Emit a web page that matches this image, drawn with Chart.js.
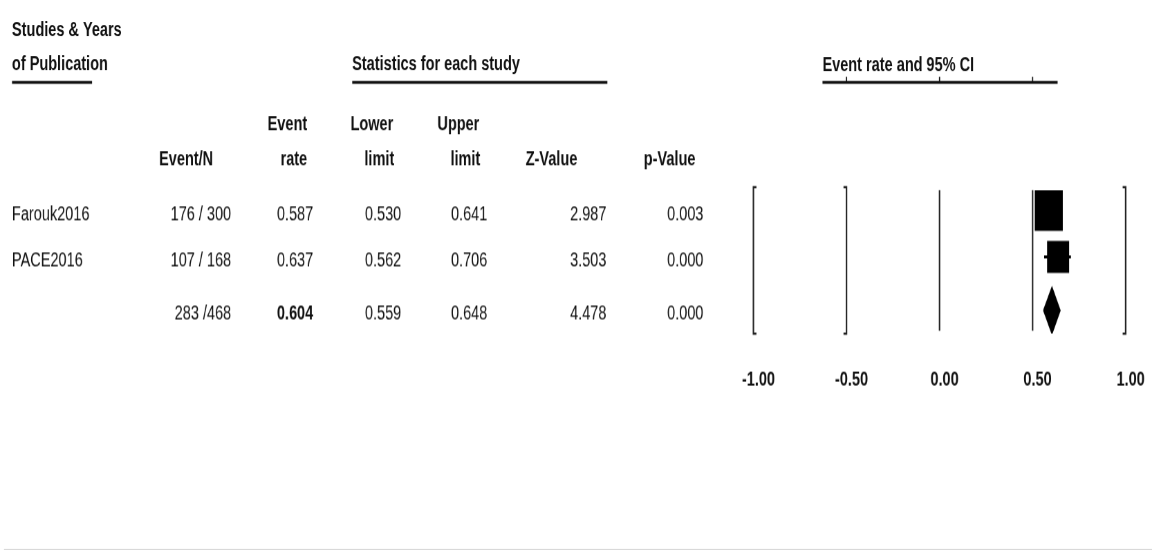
<!DOCTYPE html>
<html>
<head>
<meta charset="utf-8">
<title>Event rate forest plot</title>
<script src="https://cdn.jsdelivr.net/npm/chart.js@4.4.1/dist/chart.umd.min.js"></script>
<style>
  html, body { margin: 0; background: #fff; overflow: hidden; }
  #page { width: 1152px; height: 550px; position: relative; }
  /* the plot is drawn on a short canvas and stretched to full height */
  #wrap { position: absolute; left: 0; top: 0; width: 1152px; height: 380px; transform: scale(1, 1.447); transform-origin: 0 0; }
</style>
</head>
<body>
<div id="page"><div id="wrap"><canvas id="forest"></canvas></div></div>
<script>
const studyNames = ['Farouk2016', 'PACE2016'];
const eventCounts = [176, 107];
const sampleSizes = [300, 168];
const eventRates = [0.587, 0.637];
const lowerLimits = [0.530, 0.562];
const upperLimits = [0.641, 0.706];
const zValues = [2.987, 3.503];
const pValues = [0.003, 0.000];

const pooledEvents = 283;
const pooledSize = 468;
const pooledRate = 0.604;
const pooledLower = 0.559;
const pooledUpper = 0.648;
const pooledZ = 4.478;
const pooledP = 0.000;

const axisTicks = [-1, -0.5, 0, 0.5, 1];

const STRETCH = 1.447;
const ink = '#111';
const pooledRow = 2.15;
const diamondHalf = 0.5;

function put(ctx, str, x, y, align, bold) {
    ctx.font = (bold ? 'bold ' : '') + '14.5px "Liberation Sans", Arial, sans-serif';
    ctx.textAlign = align;
    ctx.textBaseline = 'alphabetic';
    ctx.fillStyle = ink;
    ctx.fillText(str, x, y);
}

// brackets and reference lines behind the markers
const frameLines = {
    id: 'frameLines',
    beforeDatasetsDraw(chart) {
        const { ctx, chartArea } = chart;
        const xs = chart.scales.x;
        const top = chartArea.top, bottom = chartArea.bottom;
        ctx.save();
        ctx.strokeStyle = '#222';
        ctx.lineWidth = 1.5;

        const bracket = (value, dir) => {
            const px = xs.getPixelForValue(value);
            ctx.beginPath();
            ctx.moveTo(px + dir * 3, top);
            ctx.lineTo(px, top);
            ctx.lineTo(px, bottom);
            ctx.lineTo(px + dir * 3, bottom);
            ctx.stroke();
        };
        bracket(-1, 1);
        bracket(-0.5, -1);
        bracket(1, -1);

        [0, 0.5].forEach(v => {
            const px = xs.getPixelForValue(v);
            ctx.beginPath();
            ctx.moveTo(px, top + 2);
            ctx.lineTo(px, bottom - 2);
            ctx.stroke();
        });
        ctx.restore();
    }
};

// table columns, headers and underlines
const forestTable = {
    id: 'forestTable',
    afterDraw(chart) {
        const { ctx } = chart;
        const xs = chart.scales.x;
        const ys = chart.scales.y;
        ctx.save();

        put(ctx, 'Studies & Years', 12, 25.2, 'left', true);
        put(ctx, 'of Publication', 12, 48.6, 'left', true);
        put(ctx, 'Statistics for each study', 352, 48.6, 'left', true);
        put(ctx, 'Event rate and 95% CI', 822, 48.8, 'left', true);

        ctx.fillStyle = ink;
        ctx.fillRect(12, 55.8, 80, 2);
        ctx.fillRect(352, 55.8, 255, 2);
        ctx.fillRect(822, 55.8, 235, 2);
        [-0.5, 0, 0.5].forEach(v => {
            ctx.fillRect(xs.getPixelForValue(v) - 0.6, 53, 1.2, 3);
        });

        put(ctx, 'Event', 307, 89.8, 'right', true);
        put(ctx, 'Lower', 393, 89.8, 'right', true);
        put(ctx, 'Upper', 479, 89.8, 'right', true);
        put(ctx, 'Event/N', 213, 114, 'right', true);
        put(ctx, 'rate', 307, 114, 'right', true);
        put(ctx, 'limit', 394, 114, 'right', true);
        put(ctx, 'limit', 480, 114, 'right', true);
        put(ctx, 'Z-Value', 577, 114, 'right', true);
        put(ctx, 'p-Value', 695, 114, 'right', true);

        const cols = [231, 313, 401, 487, 606, 703];
        studyNames.forEach((name, i) => {
            const y = ys.getPixelForValue(i) + 6.5;
            put(ctx, name, 12, y, 'left', false);
            put(ctx, eventCounts[i] + ' / ' + sampleSizes[i], cols[0], y, 'right', false);
            put(ctx, eventRates[i].toFixed(3), cols[1], y, 'right', false);
            put(ctx, lowerLimits[i].toFixed(3), cols[2], y, 'right', false);
            put(ctx, upperLimits[i].toFixed(3), cols[3], y, 'right', false);
            put(ctx, zValues[i].toFixed(3), cols[4], y, 'right', false);
            put(ctx, pValues[i].toFixed(3), cols[5], y, 'right', false);
        });

        const py = ys.getPixelForValue(pooledRow) + 6.5;
        put(ctx, pooledEvents + ' /' + pooledSize, cols[0], py, 'right', false);
        put(ctx, pooledRate.toFixed(3), cols[1], py, 'right', true);
        put(ctx, pooledLower.toFixed(3), cols[2], py, 'right', false);
        put(ctx, pooledUpper.toFixed(3), cols[3], py, 'right', false);
        put(ctx, pooledZ.toFixed(3), cols[4], py, 'right', false);
        put(ctx, pooledP.toFixed(3), cols[5], py, 'right', false);

        ctx.fillStyle = '#d4d4d4';
        ctx.fillRect(4, 378.8, 1148, 0.8);
        ctx.restore();
    }
};

const whiskers = studyNames.map((name, i) => ({
    label: name + ' CI',
    data: [{ x: lowerLimits[i], y: i }, { x: upperLimits[i], y: i }],
    showLine: true,
    borderColor: '#000',
    borderWidth: 2,
    pointRadius: 0
}));

const chart = new Chart(document.getElementById('forest'), {
    type: 'scatter',
    data: {
        datasets: [
            ...whiskers,
            {
                label: 'Event rate',
                data: eventRates.map((r, i) => ({ x: r, y: i })),
                pointStyle: 'rect',
                pointRadius: [19.8, 15.6],
                pointHoverRadius: [19.8, 15.6],
                backgroundColor: '#000',
                borderWidth: 0
            },
            {
                label: 'Pooled',
                data: [
                    { x: pooledLower, y: pooledRow },
                    { x: pooledRate, y: pooledRow - diamondHalf },
                    { x: pooledUpper, y: pooledRow },
                    { x: pooledRate, y: pooledRow + diamondHalf },
                    { x: pooledLower, y: pooledRow }
                ],
                showLine: true,
                fill: 'shape',
                backgroundColor: '#000',
                borderColor: '#000',
                borderWidth: 1,
                pointRadius: 0
            }
        ]
    },
    options: {
        responsive: true,
        maintainAspectRatio: false,
        devicePixelRatio: STRETCH,
        animation: false,
        events: [],
        layout: {
            autoPadding: false,
            padding: { left: 753, right: 27, top: 129.2, bottom: 0 }
        },
        plugins: {
            legend: { display: false },
            tooltip: { enabled: false }
        },
        scales: {
            x: {
                type: 'linear',
                min: -1,
                max: 1,
                afterBuildTicks: axis => { axis.ticks = axisTicks.map(v => ({ value: v })); },
                afterFit: axis => {
                    axis.height = 149.8;
                    axis.paddingLeft = 0;
                    axis.paddingRight = 0;
                },
                grid: { display: false, drawTicks: false },
                border: { display: false },
                ticks: {
                    color: ink,
                    padding: 23,
                    labelOffset: 5,
                    font: { family: '"Liberation Sans", Arial, sans-serif', size: 14.5, weight: 'bold' },
                    callback: v => v.toFixed(2)
                }
            },
            y: {
                type: 'linear',
                display: false,
                reverse: true,
                min: -0.5,
                max: 2.65
            }
        }
    },
    plugins: [frameLines, forestTable]
});
</script>
</body>
</html>
